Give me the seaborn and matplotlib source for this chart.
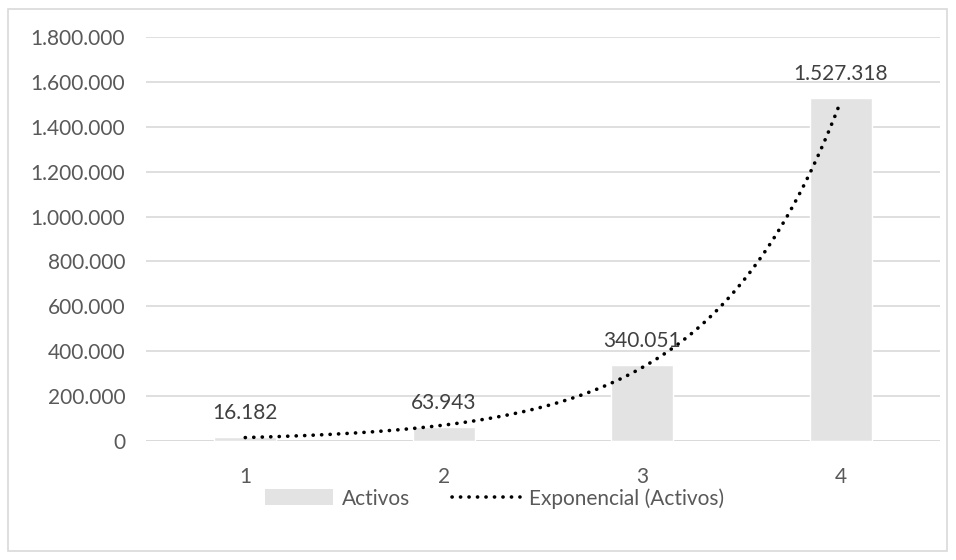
import numpy as np
import pandas as pd
import seaborn as sns
import matplotlib.pyplot as plt
from matplotlib.patches import Patch
from matplotlib.lines import Line2D

# data
periodos = [1, 2, 3, 4]
activos = [16182, 63943, 340051, 1527318]
etiquetas = ["16.182", "63.943", "340.051", "1.527.318"]
yticks = [0, 200000, 400000, 600000, 800000, 1000000, 1200000, 1400000, 1600000, 1800000]

df = pd.DataFrame({"periodo": periodos, "activos": activos})

sns.set_style("white")
plt.rcParams["font.family"] = ["Lato", "DejaVu Sans"]
FS = 15
DOTS = (0, (0.05, 2.3))

fig = plt.figure(figsize=(9.56, 5.6), dpi=100)
ax = fig.add_axes([0.1527, 0.2125, 0.8306, 0.7215])

sns.barplot(data=df, x="periodo", y="activos", color="#e3e3e3", width=0.31,
            saturation=1, ax=ax, zorder=2)

# exponential trendline (least squares on log values, like Excel)
b, a = np.polyfit(periodos, np.log(activos), 1)
xs = np.linspace(1, 4, 200)
ax.plot(xs - 1, np.exp(a + b * xs), color="black", lw=2.6,
        linestyle=DOTS, dash_capstyle="round", zorder=3)

for i, (v, t) in enumerate(zip(activos, etiquetas)):
    ax.annotate(t, (i, v), xytext=(0, 10), textcoords="offset points",
                ha="center", va="bottom", fontsize=FS, color="#404040", zorder=4)

ax.set_xlim(-0.5, 3.5)
ax.set_ylim(0, 1800000)
ax.set_yticks(yticks)
ax.set_yticklabels([f"{v:,}".replace(",", ".") for v in yticks])
ax.yaxis.grid(True, color="#d9d9d9", lw=1.2)
ax.set_axisbelow(True)
ax.tick_params(axis="both", length=0, labelsize=FS, labelcolor="#595959")
ax.tick_params(axis="x", pad=19)
ax.tick_params(axis="y", pad=15)
ax.set_xlabel("")
ax.set_ylabel("")
for s in ax.spines.values():
    s.set_visible(False)
ax.axhline(0, color="#d9d9d9", lw=1.2, zorder=1)

handles = [Patch(facecolor="#e3e3e3", edgecolor="none"),
           Line2D([], [], color="black", lw=2.6, linestyle=DOTS,
                  dash_capstyle="round")]
fig.legend(handles, ["Activos", "Exponencial (Activos)"], loc="center",
           bbox_to_anchor=(0.517, 0.11), ncol=2, frameon=False, fontsize=FS,
           labelcolor="#595959", handlelength=3.3, handleheight=0.8,
           columnspacing=2.0, handletextpad=0.4)

fig.patches.append(plt.Rectangle((8 / 956, 9 / 560), 939 / 956, 542 / 560,
                                 transform=fig.transFigure, fill=False,
                                 edgecolor="#d9d9d9", lw=1.2))

fig.savefig("out.png", dpi=100)
